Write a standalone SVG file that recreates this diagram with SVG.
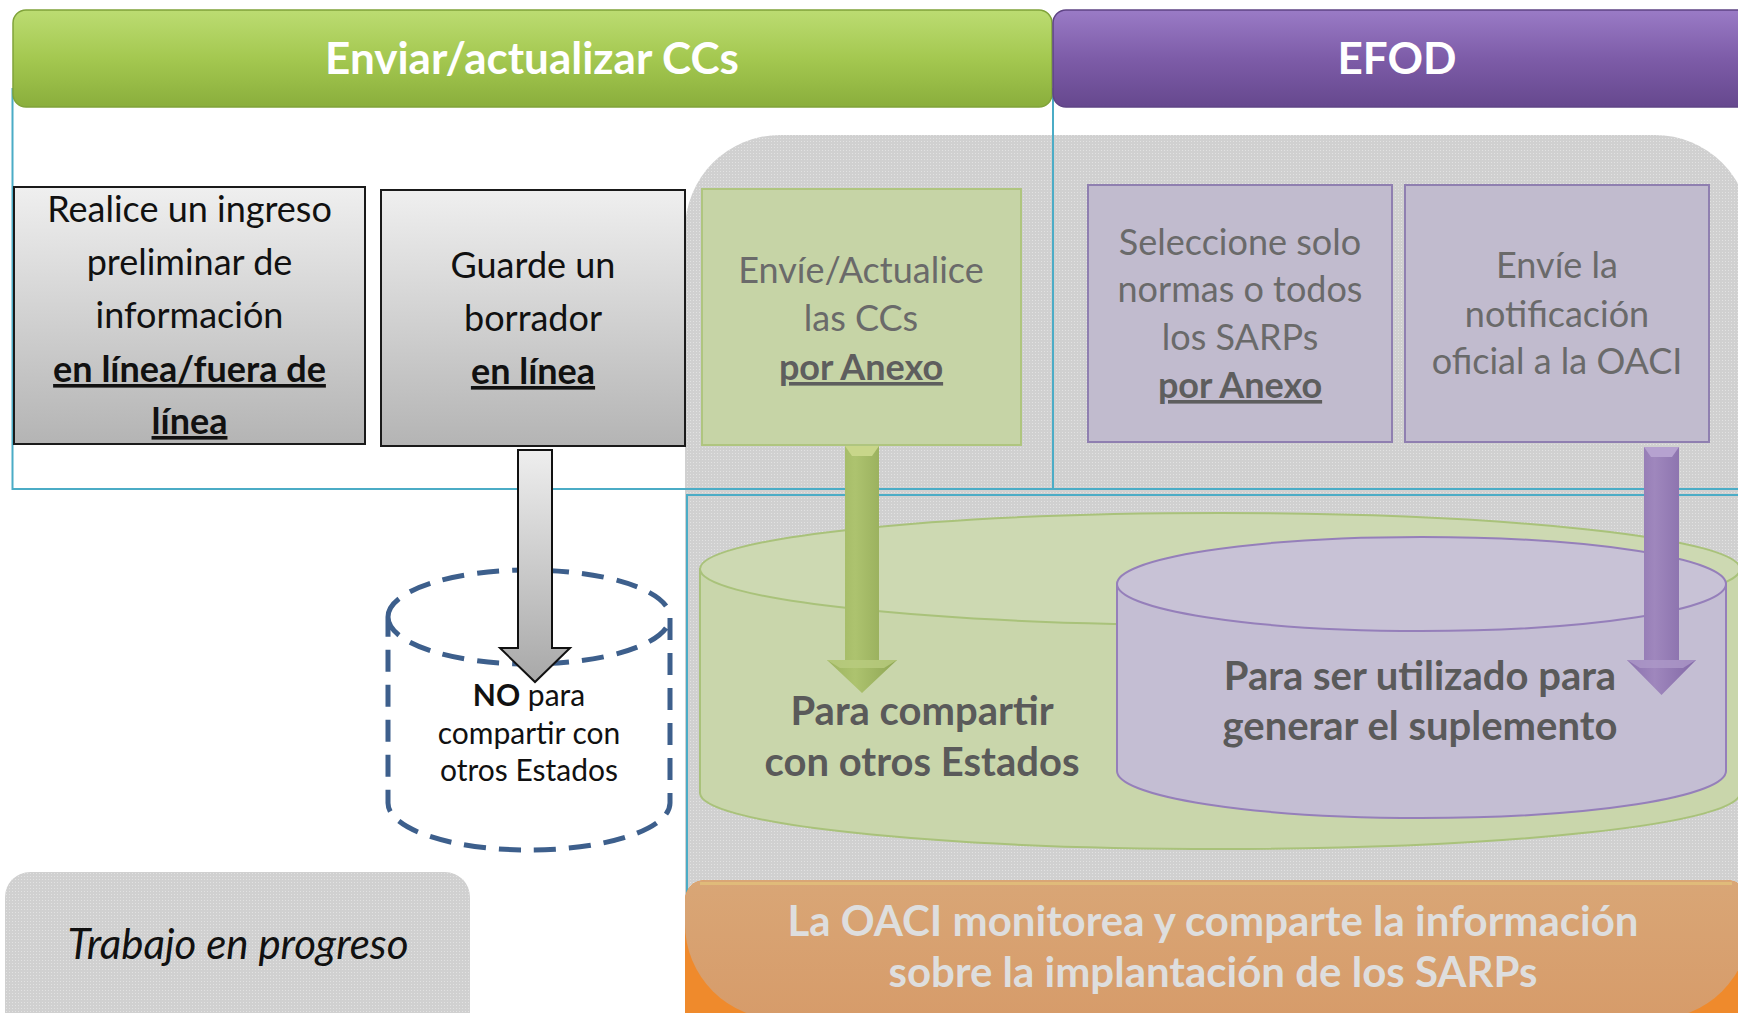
<svg xmlns="http://www.w3.org/2000/svg" width="1738" height="1013" viewBox="0 0 1738 1013">
<defs>
<style>
text{font-family:Lato,"Liberation Sans",sans-serif;text-anchor:middle}
.hdr{font-weight:700;font-size:44px;fill:#ffffff}
.bt{font-size:36px;fill:#111111}
.gt{font-size:36px;fill:#6a6a6a}
.u{font-weight:700;text-decoration:underline}
.no{font-size:30px;fill:#111111}
.cyl{font-weight:700;font-size:40px;fill:#5a5a5a}
.org{font-weight:700;font-size:42px;fill:#dedede}
.teal{fill:none;stroke:#4bacc6;stroke-width:2}
</style>
<pattern id="dots" width="3" height="3" patternUnits="userSpaceOnUse">
<rect width="3" height="3" fill="#d0d0d0"/>
<rect width="1" height="1" fill="#e2e2e2"/>
</pattern>
<linearGradient id="gHdr" x1="0" y1="0" x2="0" y2="1">
<stop offset="0" stop-color="#bcdc72"/>
<stop offset="0.5" stop-color="#a4c850"/>
<stop offset="1" stop-color="#8aae3c"/>
</linearGradient>
<linearGradient id="pHdr" x1="0" y1="0" x2="0" y2="1">
<stop offset="0" stop-color="#9a7bc6"/>
<stop offset="0.5" stop-color="#7d5ca8"/>
<stop offset="1" stop-color="#66488e"/>
</linearGradient>
<linearGradient id="grayBox" x1="0" y1="0" x2="0" y2="1">
<stop offset="0" stop-color="#efefef"/>
<stop offset="1" stop-color="#b4b4b4"/>
</linearGradient>
<linearGradient id="grayArrow" x1="0" y1="0" x2="0" y2="1">
<stop offset="0" stop-color="#eeeeee"/>
<stop offset="1" stop-color="#a8a8a8"/>
</linearGradient>
<linearGradient id="gArrow" x1="0" y1="0" x2="1" y2="0">
<stop offset="0" stop-color="#9cb35f"/>
<stop offset="0.4" stop-color="#adc36f"/>
<stop offset="1" stop-color="#8ea553"/>
</linearGradient>
<linearGradient id="pArrow" x1="0" y1="0" x2="1" y2="0">
<stop offset="0" stop-color="#8a70ad"/>
<stop offset="0.4" stop-color="#9f87bd"/>
<stop offset="1" stop-color="#8268a6"/>
</linearGradient>
<linearGradient id="orgWash" x1="0" y1="0" x2="0" y2="1">
<stop offset="0" stop-color="#d9a676"/>
<stop offset="1" stop-color="#d69a68"/>
</linearGradient>
<clipPath id="regionClip">
<rect x="685" y="135" width="1065" height="884" rx="95" ry="95"/>
</clipPath>
</defs>

<g id="region-bg">
<rect x="685" y="135" width="1065" height="884" rx="95" ry="95" fill="url(#dots)"/>
</g>

<g id="frames">
<rect class="teal" x="12.5" y="89" width="1040.5" height="400"/>
<rect class="teal" x="1053" y="89" width="697" height="400"/>
<rect class="teal" x="687" y="495" width="1063" height="600"/>
</g>

<g id="header-green">
<rect x="13" y="10" width="1039" height="97" rx="13" fill="url(#gHdr)" stroke="#80a33a" stroke-width="1.5"/>
<text class="hdr" x="532" y="74">Enviar/actualizar CCs</text>
</g>
<g id="header-efod">
<rect x="1053" y="10" width="700" height="97" rx="13" fill="url(#pHdr)" stroke="#5f4485" stroke-width="1.5"/>
<text class="hdr" x="1397" y="74">EFOD</text>
</g>

<g id="box-ingreso">
<rect x="14" y="187" width="351" height="257" fill="url(#grayBox)" stroke="#1a1a1a" stroke-width="2"/>
<text class="bt" x="189.5" y="222">Realice un ingreso</text>
<text class="bt" x="189.5" y="275">preliminar de</text>
<text class="bt" x="189.5" y="328">información</text>
<text class="bt u" x="189.5" y="382">en línea/fuera de</text>
<text class="bt u" x="189.5" y="434">línea</text>
</g>

<g id="box-borrador">
<rect x="381" y="190" width="304" height="256" fill="url(#grayBox)" stroke="#1a1a1a" stroke-width="2"/>
<text class="bt" x="533" y="278">Guarde un</text>
<text class="bt" x="533" y="331">borrador</text>
<text class="bt u" x="533" y="384">en línea</text>
</g>

<g id="box-envie-ccs">
<rect x="702" y="189" width="319" height="256" fill="#c6d4a6" stroke="#afc57f" stroke-width="2"/>
<text class="gt" x="861" y="283">Envíe/Actualice</text>
<text class="gt" x="861" y="331">las CCs</text>
<text class="gt u" x="861" y="380" style="fill:#5e5e5e">por Anexo</text>
</g>

<g id="box-seleccione">
<rect x="1088" y="185" width="304" height="257" fill="#c1bbce" stroke="#8f7fb0" stroke-width="2"/>
<text class="gt" x="1240" y="255">Seleccione solo</text>
<text class="gt" x="1240" y="302">normas o todos</text>
<text class="gt" x="1240" y="350">los SARPs</text>
<text class="gt u" x="1240" y="398" style="fill:#5e5e5e">por Anexo</text>
</g>

<g id="box-notificacion">
<rect x="1405" y="185" width="304" height="257" fill="#c1bbce" stroke="#8f7fb0" stroke-width="2"/>
<text class="gt" x="1557" y="278">Envíe la</text>
<text class="gt" x="1557" y="327">notificación</text>
<text class="gt" x="1557" y="374">oficial a la OACI</text>
</g>

<g id="cyl-compartir">
<path d="M700,569 V793 A520,56 0 0 0 1740,793 V569 Z" fill="#c9d6ab" stroke="#a9c27a" stroke-width="2"/>
<ellipse cx="1220" cy="569" rx="520" ry="56" fill="#cdd9b2" stroke="#a9c27a" stroke-width="2"/>
<text class="cyl" x="922" y="725">Para compartir</text>
<text class="cyl" x="922" y="776">con otros Estados</text>
</g>

<g id="cyl-suplemento">
<path d="M1117,584 V771 A304.5,47 0 0 0 1726,771 V584 Z" fill="#c4bed3" stroke="#957fba" stroke-width="2"/>
<ellipse cx="1421.5" cy="584" rx="304.5" ry="47" fill="#c8c2d6" stroke="#957fba" stroke-width="2"/>
<text class="cyl" x="1420" y="690">Para ser utilizado para</text>
<text class="cyl" x="1420" y="740">generar el suplemento</text>
</g>

<g id="box-oaci">
<rect x="685" y="880" width="1062" height="160" rx="20" fill="#ef8a2c"/>
<rect x="685" y="880" width="1062" height="160" rx="20" fill="url(#orgWash)" clip-path="url(#regionClip)"/>
<rect x="700" y="882" width="1032" height="3" fill="#e2c47c" opacity="0.7"/>
<text class="org" x="1213" y="936">La OACI monitorea y comparte la información</text>
<text class="org" x="1213" y="987">sobre la implantación de los SARPs</text>
</g>

<g id="cyl-borrador">
<path d="M388,617 A141,47 0 0 1 670,617 V803 A141,47 0 0 1 388,803 Z M388,617 A141,47 0 0 0 670,617" fill="none" stroke="#3d5f8c" stroke-width="5" stroke-dasharray="22 13"/>
<text class="no" x="529" y="706"><tspan font-weight="700">NO</tspan> para</text>
<text class="no" x="529" y="744">compartir con</text>
<text class="no" x="529" y="781">otros Estados</text>
</g>

<g id="box-trabajo">
<rect x="5" y="872" width="465" height="170" rx="25" fill="url(#dots)"/>
<text x="238" y="959" style="font-style:italic;font-size:42px;fill:#111111">Trabajo en progreso</text>
</g>

<g id="connectors">
<polygon points="518,450 552,450 552,648 570,648 535,682 500,648 518,648" fill="url(#grayArrow)" stroke="#111111" stroke-width="2"/>
<polygon points="845,446 879,446 879,660 897,660 862,693 827,660 845,660" fill="url(#gArrow)"/>
<polygon points="845,446 879,446 872,456 852,456" fill="#c8d68a"/>
<polygon points="827,660 897,660 884,668 840,668" fill="#b9cc80" opacity="0.8"/>
<polygon points="1644,447 1679,447 1679,660 1696,660 1661.5,695 1627,660 1644,660" fill="url(#pArrow)"/>
<polygon points="1644,447 1679,447 1672,457 1651,457" fill="#b6a2d0"/>
<polygon points="1627,660 1696,660 1683,668 1640,668" fill="#ad98c8" opacity="0.8"/>
</g>
</svg>
